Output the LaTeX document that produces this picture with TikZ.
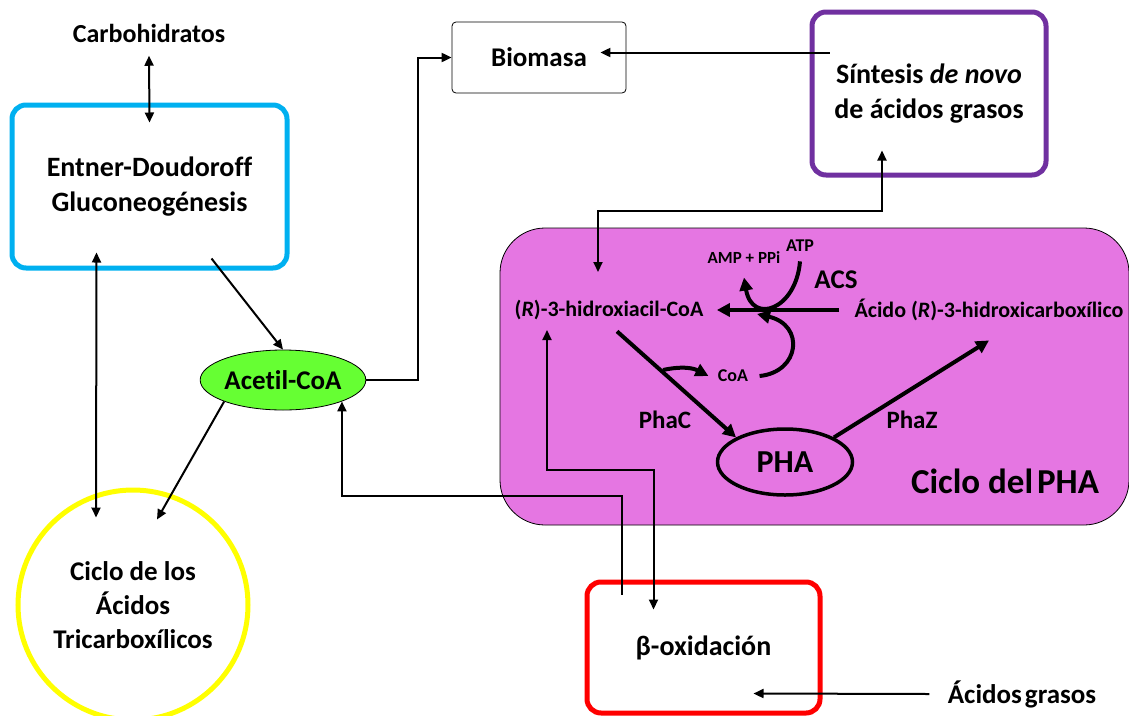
\documentclass[tikz,border=0pt]{standalone}
\usepackage{fontspec}
\setmainfont{Carlito}[Ligatures=NoCommon]
\usetikzlibrary{arrows.meta,shapes.geometric}
\newcommand\fsz[2]{\fontsize{#1pt}{#2pt}\selectfont\bfseries}
\definecolor{edblue}{RGB}{0,176,240}
\definecolor{sintpurple}{RGB}{112,48,160}
\definecolor{tcayellow}{RGB}{255,255,0}
\definecolor{acgreen}{RGB}{102,255,51}
\definecolor{phapink}{RGB}{229,118,226}
\begin{document}
\begin{tikzpicture}[x=1pt,y=-1pt,
    every node/.style={font=\fsz{28}{35}},
    box/.style={draw,line width=5pt,rounded corners=14pt,align=center,inner sep=0pt},
    arr/.style={line width=2pt,-{Triangle[length=10pt,width=9pt]}},
    dblarr/.style={line width=2pt,{Triangle[length=10pt,width=9pt]}-{Triangle[length=10pt,width=9pt]}},
    bigarr/.style={line width=4pt,-{Triangle[length=13pt,width=13pt]}}]
    \useasboundingbox (0,0) rectangle (1129,715);
    \node[draw,fill=phapink,rounded corners=45pt,minimum width=629pt,minimum height=297pt,line width=0.8pt] (cyc) at (814.5,376.5) {};
    \node[font=\fsz{26}{32}] (carb) at (149,33) {Carbohidratos};
    \node[box,draw=edblue,minimum width=275pt,minimum height=163pt] (ed) at (149.5,186.5) {Entner-Doudoroff\\Gluconeogénesis};
    \node[draw,ellipse,fill=acgreen,minimum width=156pt,minimum height=60pt,inner sep=0pt,line width=0.8pt,font=\fsz{27}{32}] (acetil) at (283,380) {Acetil-CoA};
    \node[circle,draw=tcayellow,line width=5pt,minimum size=230pt,align=center,font=\fsz{27}{34}] (tca) at (133,605) {Ciclo de los\\Ácidos\\Tricarboxílicos};
    \node[draw,rounded corners=4pt,minimum width=174pt,minimum height=71pt,line width=0.8pt,font=\fsz{27}{32}] (bio) at (539,57.5) {Biomasa};
    \node[box,draw=sintpurple,minimum width=234pt,minimum height=163pt] (sint) at (929,93.5) {Síntesis \textit{de novo}\\de ácidos grasos};
    \node[box,draw=red,minimum width=233pt,minimum height=131pt] (beta) at (703.5,647.5) {β-oxidación};
    \node[font=\fsz{27}{32}] (grasos) at (1022,694) {Ácidos\hspace{3pt}grasos};
    \node[font=\fsz{22}{26}] (hidro) at (609,310) {(\textit{R})-3-hidroxiacil-CoA};
    \node[font=\fsz{22}{26}] (acido) at (989,310) {Ácido (\textit{R})-3-hidroxicarboxílico};
    \node[font=\fsz{27}{32}] (acs) at (836,280) {ACS};
    \node[font=\fsz{17}{20}] (amp) at (744,258) {AMP + PPi};
    \node[font=\fsz{18}{21}] (atp) at (800,246) {ATP};
    \node[font=\fsz{18}{21}] (coa) at (733,376) {CoA};
    \node[font=\fsz{25}{30}] (phac) at (665,420) {PhaC};
    \node[font=\fsz{25}{30}] (phaz) at (912,420) {PhaZ};
    \node[draw,ellipse,line width=3.5pt,minimum width=135pt,minimum height=66pt,inner sep=0pt,font=\fsz{32}{38}] (pha) at (785,462) {PHA};
    \node[font=\fsz{35}{42}] (ciclo) at (1005,481) {Ciclo del\hspace{4pt}PHA};
    \coordinate (hidroin) at (598,272);
    \coordinate (hidroup) at (547,330);
    \coordinate (release) at (663,370);

    \draw[dblarr] ([yshift=-10pt]carb.south) -- ([yshift=-20pt]ed.north);
    \draw[dblarr] ([xshift=-53pt,yshift=18pt]ed.south) -- ([xshift=-37pt,yshift=-30pt]tca.north);
    \draw[arr] ([xshift=62pt,yshift=12pt]ed.south) -- (acetil.north);
    \draw[arr] (acetil.south west) -- ([xshift=24pt,yshift=-32pt]tca.north);
    \draw[arr] (acetil.east) -- ++(52,0) |- (bio.west);
    \draw[arr] ([xshift=20pt,yshift=41pt]sint.west) -- ([xshift=-26pt,yshift=5pt]bio.east);
    \draw[dblarr] (hidroin) -- ++(0,-61) -| ([xshift=-47pt,yshift=27pt]sint.south);
    \draw[dblarr] (hidroup) -- ++(0,140) -| ([xshift=-50pt,yshift=-30pt]beta.north);
    \draw[arr] ([xshift=-82pt,yshift=-15pt]beta.north) -- ++(0,-99) -| (acetil.-20);
    \draw[arr] ([xshift=-15pt]grasos.west) -- ([xshift=50pt,yshift=-46pt]beta.center);

    \draw[bigarr] ([xshift=-12pt]acido.west) -- ([xshift=10pt]hidro.east);
    \draw[bigarr] ([yshift=-6pt]atp.south) .. controls (796,310) and (752,325) .. ([yshift=-10pt]amp.south);
    \draw[bigarr] ([xshift=8pt]coa.east) .. controls (800,372) and (805,325) .. (757,314);
    \draw[bigarr] ([xshift=8pt,yshift=-8pt]hidro.south) -- (pha.north west);
    \draw[bigarr] (release) to[bend left=20] ([xshift=-6pt]coa.west);
    \draw[bigarr] (pha.north east) -- ([yshift=-16pt]acido.south);
\end{tikzpicture}
\end{document}
